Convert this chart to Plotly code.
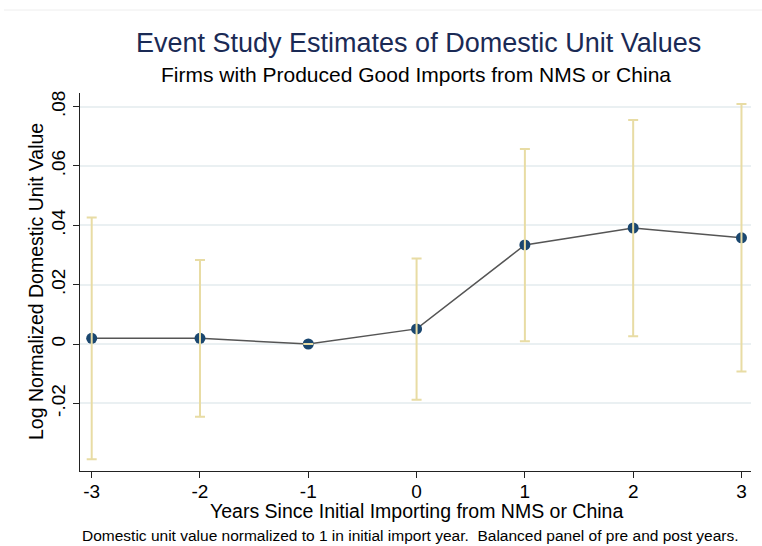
import plotly.graph_objects as go

# Event-study coefficients with 95% confidence bounds
years = [-3, -2, -1, 0, 1, 2, 3]
estimate = [0.0019, 0.0019, 0.0, 0.0051, 0.0334, 0.0391, 0.0358]
ci_upper = [0.0426, 0.0283, 0.0, 0.0288, 0.0657, 0.0755, 0.0809]
ci_lower = [-0.0388, -0.0245, 0.0, -0.0188, 0.0009, 0.0026, -0.0093]

y_ticks = [-0.02, 0, 0.02, 0.04, 0.06, 0.08]
y_tick_text = ["-.02", "0", ".02", ".04", ".06", ".08"]

err_plus = [u - e for u, e in zip(ci_upper, estimate)]
err_minus = [e - l for e, l in zip(estimate, ci_lower)]

FONT = "Liberation Sans, Arial, sans-serif"
NAVY = "#1a476f"
CI_COLOR = "#e8dca4"

W, H = 762, 546
ML, MR, MT, MB = 80, 11, 93, 75
plot_w = W - ML - MR
plot_h = H - MT - MB


def px_x(x):
    return (x - ML) / plot_w


def px_y(y):
    return (H - MB - y) / plot_h


fig = go.Figure()

# Point estimates joined by a line
fig.add_trace(go.Scatter(
    x=years, y=estimate, mode="lines+markers",
    line=dict(color="#555555", width=1.5),
    marker=dict(color=NAVY, size=11),
    showlegend=False, hoverinfo="skip",
))

# Confidence intervals drawn on top of the markers
fig.add_trace(go.Scatter(
    x=years, y=estimate, mode="markers",
    marker=dict(color="rgba(0,0,0,0)", size=1),
    error_y=dict(type="data", symmetric=False, array=err_plus,
                 arrayminus=err_minus, color=CI_COLOR, thickness=2, width=5),
    showlegend=False, hoverinfo="skip",
))

fig.update_layout(
    width=W, height=H,
    margin=dict(l=ML, r=MR, t=MT, b=MB),
    paper_bgcolor="white", plot_bgcolor="white",
    font=dict(family=FONT, color="black"),
    xaxis=dict(
        range=[-3.108, 3.088], tickmode="array", tickvals=years,
        ticktext=[str(v) for v in years],
        showgrid=False, zeroline=False,
        showline=True, linecolor="#222222", linewidth=1.2,
        ticks="outside", ticklen=6, tickcolor="#222222", tickwidth=1.2,
        ticklabelstandoff=-3,
        tickfont=dict(size=19, family=FONT, color="black"),
    ),
    yaxis=dict(
        range=[-0.0428, 0.0846], tickmode="array", tickvals=y_ticks,
        ticktext=y_tick_text, tickangle=-90,
        showgrid=True, gridcolor="#eaf0f2", gridwidth=1.5, zeroline=False,
        showline=True, linecolor="#222222", linewidth=1.2,
        ticks="outside", ticklen=6, tickcolor="#222222", tickwidth=1.2,
        tickfont=dict(size=19, family=FONT, color="black"),
    ),
    annotations=[
        dict(text="Event Study Estimates of Domestic Unit Values",
             x=px_x(418), y=px_y(43), xref="paper", yref="paper",
             xanchor="center", yanchor="middle", showarrow=False,
             font=dict(size=27, family=FONT, color="#1a2a55")),
        dict(text="Firms with Produced Good Imports from NMS or China",
             x=px_x(416), y=px_y(74), xref="paper", yref="paper",
             xanchor="center", yanchor="middle", showarrow=False,
             font=dict(size=21, family=FONT, color="black")),
        dict(text="Log Normalized Domestic Unit Value",
             x=px_x(36), y=px_y(282), xref="paper", yref="paper",
             xanchor="center", yanchor="middle", showarrow=False,
             textangle=-90,
             font=dict(size=19.5, family=FONT, color="black")),
        dict(text="Years Since Initial Importing from NMS or China",
             x=px_x(416), y=px_y(511), xref="paper", yref="paper",
             xanchor="center", yanchor="middle", showarrow=False,
             font=dict(size=19.5, family=FONT, color="black")),
        dict(text="Domestic unit value normalized to 1 in initial import year.  "
                  "Balanced panel of pre and post years.",
             x=px_x(410), y=px_y(535), xref="paper", yref="paper",
             xanchor="center", yanchor="middle", showarrow=False,
             font=dict(size=15.5, family=FONT, color="black")),
    ],
)

# Faint rule framing the top of the graph region
fig.add_shape(type="line", xref="paper", yref="paper",
              x0=px_x(4), x1=px_x(W), y0=px_y(10), y1=px_y(10),
              line=dict(color="#eeeeee", width=1))

fig.write_html("out.html")
